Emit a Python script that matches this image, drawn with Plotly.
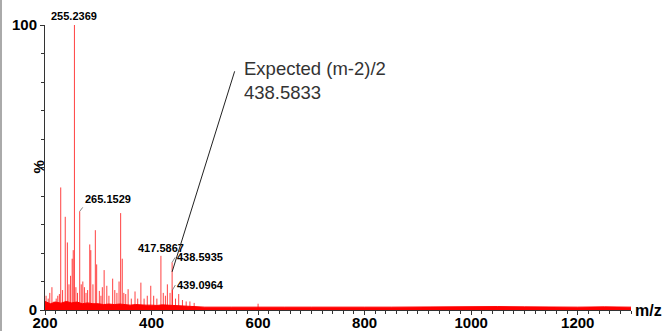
import plotly.graph_objects as go

# ---- data ----
peak_mz = [202, 206, 209, 213, 217, 221, 224, 227, 229.5, 233, 238, 242, 245, 248,
           251, 253, 255.2369, 258, 261, 265.1529, 268, 271, 274, 277, 280, 284, 286,
           290, 294.5, 297, 302, 305, 307.6, 311, 316, 320, 327, 331, 335, 339, 342,
           345, 348, 351.5, 356, 362, 369, 374, 380, 386, 392, 398.5, 404, 410,
           417.5867, 422, 426, 429.7, 434.7, 438.5935, 439.0964, 445, 451, 458, 465,
           472, 480, 600]
peak_int = [5, 4, 6, 8, 3, 4, 5, 5.6, 43, 7, 32.7, 23.7, 9, 12,
            18, 21, 100, 8, 6, 34.6, 9, 10, 8, 6, 7, 23, 21,
            9, 28, 16, 6.7, 5, 8, 14, 8.5, 5, 11, 7, 6, 10, 34,
            18, 6, 5.6, 7.3, 4, 6.5, 4, 9.6, 4, 5, 8.5, 5, 4,
            19, 6, 5, 9, 6, 16.7, 7, 4, 5.6, 3.5, 3,
            3, 2.5, 2.2]

base_mz = [200, 210, 220, 230, 240, 250, 260, 270, 280, 290, 300, 310, 320, 330, 340,
           350, 360, 370, 380, 390, 400, 410, 420, 430, 440, 450, 460, 470, 480, 490,
           500, 550, 600, 650, 700, 750, 800, 850, 900, 950, 1000, 1050, 1100, 1150,
           1200, 1250, 1300]
base_int = [3, 2.2, 2.8, 2.4, 3, 2.5, 2.8, 2.2, 2.5, 2.2, 2.2, 1.9, 2.1, 1.9, 2.1,
            1.9, 1.7, 1.9, 1.7, 1.7, 1.7, 1.6, 1.8, 1.7, 1.8, 1.6, 1.4, 1.3, 1.2, 1.1,
            1.0, 1.0, 1.1, 1.0, 1.0, 1.1, 1.0, 1.0, 1.1, 1.2, 1.1, 1.2, 1.1, 1.0,
            1.0, 1.1, 1.0]

labels = ["255.2369", "265.1529", "417.5867", "438.5935", "439.0964"]
label_mz = [255.2369, 265.1529, 417.5867, 438.5935, 439.0964]
label_int = [100, 34.6, 19, 16.7, 7]

expected_text = "Expected (m-2)/2<br>438.5833"
expected_mz = 438.5935
expected_int = 13.4

x_ticks = [200, 400, 600, 800, 1000, 1200]
y_ticks = [0, 100]

# ---- build stick spectrum ----
sx, sy = [], []
for m, v in zip(peak_mz, peak_int):
    sx += [m, m, None]
    sy += [0, v, None]

fig = go.Figure()
fig.add_trace(go.Scatter(x=base_mz, y=base_int, mode="lines", fill="tozeroy",
                         line=dict(color="#ff0000", width=1), fillcolor="#ff0000",
                         hoverinfo="skip"))
fig.add_trace(go.Scatter(x=sx, y=sy, mode="lines",
                         line=dict(color="rgba(255,0,0,0.75)", width=1),
                         hoverinfo="skip"))

FONT = "Liberation Sans, Arial, sans-serif"
LF = dict(size=11, color="#000", family=FONT)
ann = []
ann.append(dict(x=label_mz[0], y=label_int[0], xref="x", yref="y",
                text="<b>" + labels[0] + "</b>",
                showarrow=False, yanchor="bottom", xanchor="center", yshift=1, font=LF))
ann.append(dict(x=label_mz[1], y=label_int[1], xref="x", yref="y",
                text="<b>" + labels[1] + "</b>",
                showarrow=True, arrowhead=0, arrowwidth=0.8, arrowcolor="#666",
                ax=3, ay=-4, xanchor="left", yanchor="bottom", font=LF))
ann.append(dict(x=label_mz[2], y=label_int[2], xref="x", yref="y",
                text="<b>" + labels[2] + "</b>",
                showarrow=False, yanchor="bottom", xanchor="center", font=LF))
for i in (3, 4):
    ann.append(dict(x=label_mz[i], y=label_int[i], xref="x", yref="y",
                    text="<b>" + labels[i] + "</b>",
                    showarrow=True, arrowhead=0, arrowwidth=0.8, arrowcolor="#666",
                    ax=3, ay=-5, xanchor="left", yanchor="middle", font=LF))
ann.append(dict(x=expected_mz, y=expected_int, xref="x", yref="y", text="",
                showarrow=True, arrowhead=0, arrowwidth=1, arrowcolor="#222",
                ax=63, ay=-202))
ann.append(dict(x=569, y=89, xref="x", yref="y", text=expected_text,
                showarrow=False, xanchor="left", yanchor="top", align="left",
                font=dict(size=18.5, color="#333", family=FONT)))
ann.append(dict(x=1, y=0, xref="paper", yref="paper", text="<b>m/z</b>",
                showarrow=False, xanchor="left", yanchor="middle", xshift=2,
                font=dict(size=16, color="#000", family=FONT)))
ann.append(dict(x=0, y=0.5, xref="paper", yref="paper", text="<b>%</b>",
                showarrow=False, xanchor="center", yanchor="middle", xshift=-7,
                textangle=-90, font=dict(size=15, color="#000", family=FONT)))

fig.update_layout(
    width=666, height=331,
    margin=dict(l=45, r=35, t=25, b=21),
    paper_bgcolor="white", plot_bgcolor="white",
    showlegend=False,
    annotations=ann,
    font=dict(family=FONT),
    shapes=[dict(type="line", xref="paper", yref="paper", xsizemode="pixel",
                 xanchor=0, x0=-44, x1=-44, y0=-0.2, y1=1.2,
                 line=dict(color="#aaaaaa", width=2))],
)
fig.update_xaxes(range=[200, 1300], tickvals=x_ticks,
                 ticktext=["<b>%d</b>" % t for t in x_ticks],
                 ticks="outside", ticklen=4, automargin=False,
                 ticklabelstandoff=-5,
                 tickcolor="#333", showline=True, linecolor="#333", linewidth=1,
                 showgrid=False, zeroline=False,
                 tickfont=dict(size=15, color="#000", family=FONT),
                 minor=dict(dtick=20, tick0=200, ticks="outside", ticklen=3,
                            tickcolor="#333", showgrid=False))
fig.update_yaxes(range=[0, 100], tickvals=y_ticks,
                 ticktext=["<b>%d</b>" % t for t in y_ticks],
                 ticks="outside", ticklen=4, automargin=False,
                 tickcolor="#333", showline=True, linecolor="#333", linewidth=1,
                 showgrid=False, zeroline=False,
                 tickfont=dict(size=15, color="#000", family=FONT),
                 minor=dict(dtick=10, tick0=0, ticks="outside", ticklen=3,
                            tickcolor="#333", showgrid=False))

fig.write_html("out.html")
